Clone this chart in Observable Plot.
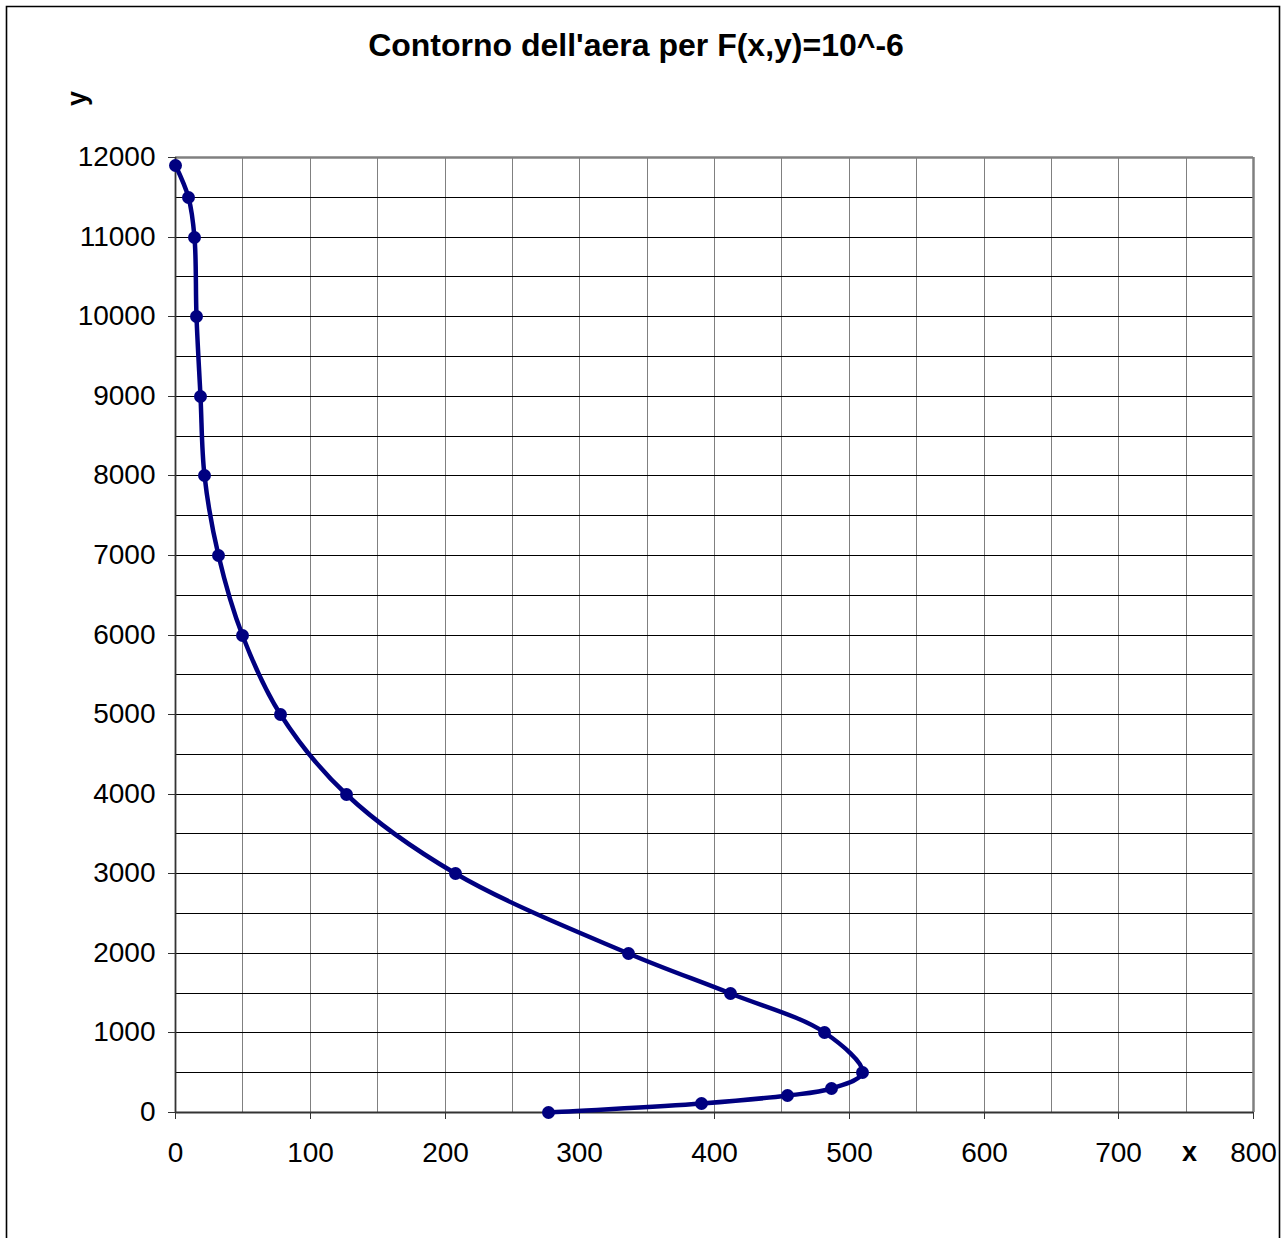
<!DOCTYPE html>
<html>
<head>
<meta charset="utf-8">
<script src="https://cdn.jsdelivr.net/npm/d3@7"></script>
<script src="https://cdn.jsdelivr.net/npm/@observablehq/plot@0.6"></script>
<style>
  html, body { margin: 0; padding: 0; background: #fff; }
  #chart { width: 1286px; height: 1238px; }
</style>
</head>
<body>
<div id="chart"></div>
<script>
// ---- data ----
const xValues = [0, 10, 14, 15.5, 18.5, 21.5, 32, 50, 78, 127, 208, 336.5, 412, 482, 510, 486.5, 454, 390, 277];
const yValues = [11900, 11500, 11000, 10000, 9000, 8000, 7000, 6000, 5000, 4000, 3000, 2000, 1500, 1000, 500, 305, 210, 110, 0];
const xTicks = [0, 100, 200, 300, 400, 500, 600, 700, 800];
const yTicks = [0, 1000, 2000, 3000, 4000, 5000, 6000, 7000, 8000, 9000, 10000, 11000, 12000];
const xGrid = d3.range(0, 801, 50);
const yGrid = d3.range(0, 12001, 500);
const titleText = "Contorno dell'aera per F(x,y)=10^-6";
const xLabel = "x";
const yLabel = "y";

const data = xValues.map((x, i) => ({x, y: yValues[i]}));

const navy = "#000080";
const font = "'Liberation Sans', Arial, sans-serif";

const chart = Plot.plot({
  width: 1286,
  height: 1238,
  marginLeft: 175,
  marginRight: 33,
  marginTop: 157,
  marginBottom: 126,
  style: {fontFamily: font, background: "#fff", overflow: "visible"},
  x: {domain: [0, 800], round: true},
  y: {domain: [0, 12000], round: true},
  marks: [
    Plot.gridX(xGrid, {stroke: "#808080", strokeOpacity: 1, strokeWidth: 1}),
    Plot.gridY(yGrid, {stroke: "#000", strokeOpacity: 1, strokeWidth: 1}),
    Plot.ruleY([12000], {stroke: "#808080", strokeWidth: 2.5}),
    Plot.ruleX([800], {stroke: "#808080", strokeWidth: 2.5}),
    Plot.ruleX([0], {stroke: "#333", strokeWidth: 1.8}),
    Plot.ruleY([0], {stroke: "#333", strokeWidth: 1.8}),
    Plot.axisX({ticks: xTicks, tickSize: 7, tickPadding: 23, fontSize: 28, label: null, stroke: "#333", tickFormat: d => String(d)}),
    Plot.axisY({ticks: yTicks, tickSize: 7, tickPadding: 13, fontSize: 28, label: null, stroke: "#333", tickFormat: d => String(d)}),
    Plot.line(data, {x: "x", y: "y", curve: "catmull-rom", stroke: navy, strokeWidth: 4.5}),
    Plot.dot(data, {x: "x", y: "y", r: 6.5, fill: navy, stroke: "none"}),
    Plot.text([titleText], {frameAnchor: "top", lineAnchor: "middle", textAnchor: "middle", dx: -78.5, dy: -112, fontSize: 32, fontWeight: "bold", fill: "#000"}),
    Plot.text([yLabel], {frameAnchor: "top-left", lineAnchor: "middle", textAnchor: "middle", dx: -98, dy: -59, rotate: -90, fontSize: 27, fontWeight: "bold", fill: "#000"}),
    Plot.text([xLabel], {frameAnchor: "bottom-right", lineAnchor: "middle", textAnchor: "middle", dx: -64, dy: 40, fontSize: 27, fontWeight: "bold", fill: "#000"})
  ]
});

// outer chart-area border (decoration)
d3.select(chart).append("path")
  .attr("d", "M6.5,1238V6.5H1279.5V1238")
  .attr("fill", "none")
  .attr("stroke", "#000")
  .attr("stroke-width", 1.6);

document.getElementById("chart").appendChild(chart);
</script>
</body>
</html>
